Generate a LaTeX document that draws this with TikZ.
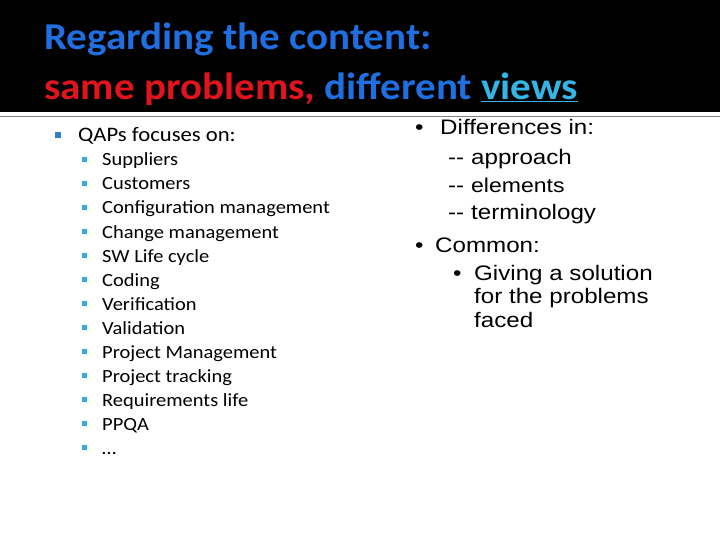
\documentclass[tikz,border=0pt]{standalone}
\usepackage{fontspec}
\setmainfont{Carlito}[FakeStretch=1.1]
\newfontfamily\titlef{Carlito}[FakeStretch=1.08]
\newfontfamily\arialf{Liberation Sans}[FakeStretch=1.15]
\definecolor{tblue}{HTML}{1F6FE0}
\definecolor{tred}{HTML}{E0141E}
\definecolor{tlight}{HTML}{33B5E5}
\definecolor{bul}{HTML}{2E7FC8}
\definecolor{bul2}{HTML}{3AA6DC}
\begin{document}
\begin{tikzpicture}[x=1pt,y=-1pt,
  t/.style={anchor=base west,inner sep=0pt,font=\fontsize{18.6}{20}\selectfont},
  r/.style={anchor=base west,inner sep=0pt,font=\arialf\fontsize{21}{23}\selectfont}]
\useasboundingbox (0,0) rectangle (720,540);
\fill[white] (0,0) rectangle (720,540);
\fill[black] (0,0) rectangle (720,112);
\draw[gray,line width=0.8pt] (0,116) -- (720,116);
\node[t,font=\titlef\bfseries\fontsize{38}{40}\selectfont,text=tblue] (t1) at (44,50) {Regarding the content:};
\node[t,font=\titlef\bfseries\fontsize{38}{40}\selectfont] (t2) at (44,100) {\textcolor{tred}{same problems,} \textcolor{tblue}{different} \textcolor{tlight}{\underline{views}}};
\fill[bul] (55,132) rectangle (61,138);
\node[t,font=\fontsize{20.6}{22}\selectfont] (q) at (78,142) {QAPs focuses on:};
\foreach \s [count=\i from 0] in {Suppliers,Customers,Configuration management,Change management,SW Life cycle,Coding,Verification,Validation,Project Management,Project tracking,Requirements life,PPQA,\dots}{
  \fill[bul2] (82,{157+24*\i}) rectangle (87,{162+24*\i});
  \node[t] (l\i) at (102,{166+24*\i}) {\s};
}
\node[r] (db) at (415,135) {\textbullet};
\node[r] (d) at (440,135) {Differences in:};
\node[r] (e1) at (448,165) {--};
\node[r] (a1) at (471,165) {approach};
\node[r] (e2) at (448,193) {--};
\node[r,font=\arialf\fontsize{20}{22}\selectfont] (a2) at (471,193) {elements};
\node[r] (e3) at (448,220) {--};
\node[r] (a3) at (471,220) {terminology};
\node[r] (cb) at (415,252) {\textbullet};
\node[r] (c) at (435,252) {Common:};
\node[r] (gb) at (453,280) {\textbullet};
\node[r] (g) at (474,280) {Giving a solution};
\node[r] (g2) at (474,303) {for the problems};
\node[r] (g3) at (474,327) {faced};
\end{tikzpicture}
\end{document}
